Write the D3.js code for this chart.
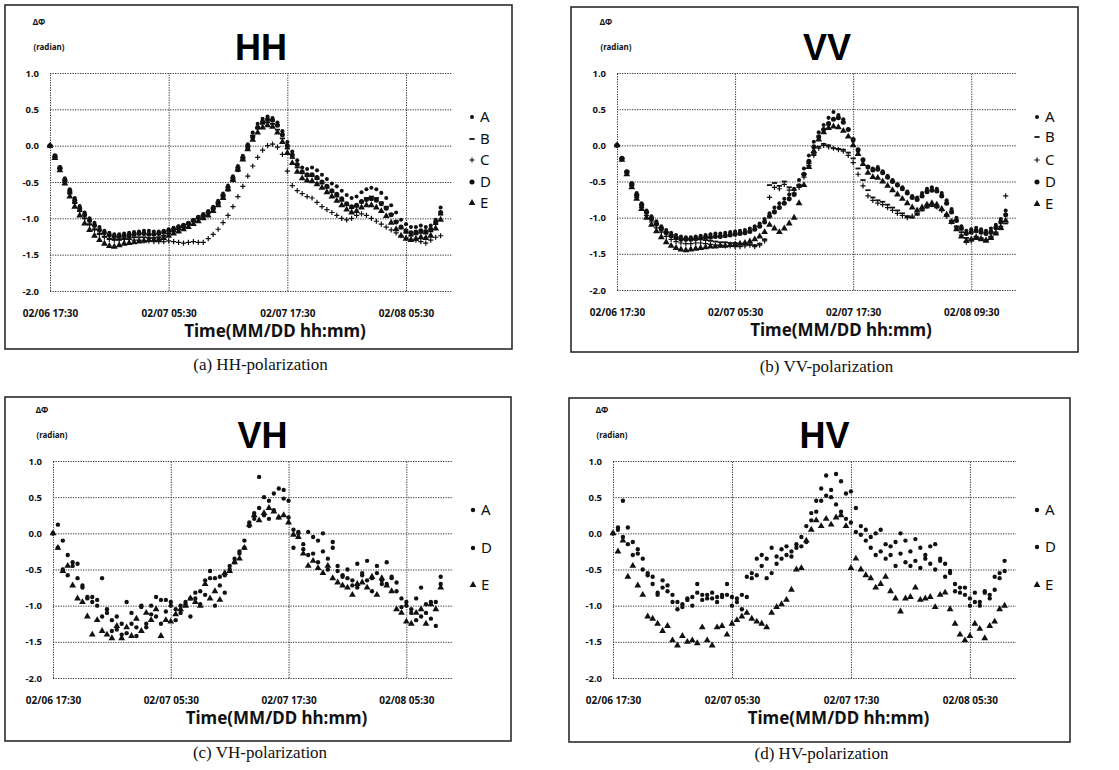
<!DOCTYPE html>
<html><head><meta charset="utf-8">
<script src="https://cdn.jsdelivr.net/npm/d3@7"></script>
<style>body{margin:0;background:#fff}svg{display:block}</style>
</head><body>
<svg id="c" width="1119" height="770"></svg>
<script>
// ---------- data ----------
const stepHours = 0.5;           // sampling interval from 02/06 17:30
const spanHours = 40.65;         // x extent of the plot area (hours)
const xTickHours = [0, 12, 24, 36];
const xTickLabels = ["02/06 17:30", "02/07 05:30", "02/07 17:30", "02/08 05:30"];
const xTickLabelsVV = ["02/06 17:30", "02/07 05:30", "02/07 17:30", "02/08 09:30"];
const yTicks = [1.0, 0.5, 0.0, -0.5, -1.0, -1.5, -2.0];

const hhA = [0.00,-0.15,-0.30,-0.45,-0.60,-0.72,-0.83,-0.92,-1.00,-1.06,-1.12,-1.17,-1.20,-1.22,-1.22,-1.21,-1.20,-1.19,-1.18,-1.17,
 -1.17,-1.18,-1.18,-1.17,-1.15,-1.13,-1.11,-1.09,-1.06,-1.02,-0.98,-0.94,-0.90,-0.84,-0.76,-0.66,-0.55,-0.42,-0.28,-0.14,
 0.02,0.18,0.30,0.37,0.40,0.38,0.32,0.20,0.05,-0.08,-0.20,-0.30,-0.32,-0.30,-0.34,-0.40,-0.46,-0.52,-0.56,-0.62,
 -0.68,-0.72,-0.70,-0.64,-0.60,-0.58,-0.60,-0.65,-0.72,-0.82,-0.92,-1.02,-1.08,-1.12,-1.12,-1.10,-1.12,-1.10,-1.02,-0.85];
const hhB = [0.00,-0.16,-0.32,-0.50,-0.66,-0.79,-0.90,-1.00,-1.08,-1.15,-1.21,-1.25,-1.28,-1.29,-1.29,-1.28,-1.27,-1.26,-1.26,-1.26,
 -1.27,-1.27,-1.26,-1.24,-1.21,-1.18,-1.15,-1.12,-1.08,-1.04,-1.00,-0.96,-0.92,-0.86,-0.78,-0.68,-0.57,-0.44,-0.30,-0.16,
 0.00,0.14,0.24,0.30,0.32,0.30,0.22,0.10,-0.04,-0.17,-0.30,-0.38,-0.42,-0.42,-0.46,-0.52,-0.58,-0.64,-0.70,-0.76,
 -0.82,-0.86,-0.84,-0.78,-0.72,-0.70,-0.72,-0.78,-0.84,-0.94,-1.04,-1.14,-1.20,-1.24,-1.22,-1.20,-1.21,-1.18,-1.08,-0.95];
const hhC = [0.00,-0.15,-0.31,-0.48,-0.64,-0.78,-0.90,-1.00,-1.09,-1.16,-1.22,-1.26,-1.29,-1.30,-1.30,-1.29,-1.29,-1.30,-1.30,-1.31,
 -1.31,-1.32,-1.32,-1.32,-1.31,-1.32,-1.33,-1.34,-1.33,-1.32,-1.33,-1.33,-1.28,-1.22,-1.15,-1.06,-0.96,-0.84,-0.70,-0.56,
 -0.42,-0.28,-0.16,-0.06,0.00,0.02,-0.02,-0.12,-0.35,-0.55,-0.62,-0.66,-0.70,-0.72,-0.78,-0.84,-0.88,-0.92,-0.96,-1.00,
 -1.02,-1.00,-0.96,-0.94,-0.96,-1.00,-1.04,-1.08,-1.12,-1.16,-1.20,-1.24,-1.27,-1.29,-1.30,-1.32,-1.34,-1.30,-1.26,-1.24];
const hhD = [0.00,-0.14,-0.30,-0.47,-0.62,-0.75,-0.86,-0.95,-1.03,-1.10,-1.16,-1.20,-1.23,-1.25,-1.25,-1.24,-1.23,-1.22,-1.21,-1.21,
 -1.22,-1.22,-1.21,-1.19,-1.17,-1.15,-1.12,-1.10,-1.07,-1.03,-0.99,-0.96,-0.92,-0.87,-0.80,-0.70,-0.60,-0.47,-0.33,-0.18,
 -0.03,0.12,0.25,0.33,0.36,0.35,0.28,0.15,0.00,-0.13,-0.26,-0.36,-0.40,-0.40,-0.44,-0.50,-0.56,-0.62,-0.67,-0.73,
 -0.80,-0.84,-0.82,-0.77,-0.74,-0.73,-0.75,-0.80,-0.86,-0.95,-1.05,-1.12,-1.17,-1.20,-1.19,-1.17,-1.18,-1.15,-1.05,-0.92];
const hhE = [0.00,-0.17,-0.34,-0.52,-0.70,-0.84,-0.96,-1.07,-1.16,-1.24,-1.30,-1.35,-1.38,-1.39,-1.37,-1.35,-1.34,-1.33,-1.32,-1.31,
 -1.30,-1.30,-1.29,-1.27,-1.24,-1.21,-1.18,-1.15,-1.12,-1.08,-1.04,-1.00,-0.96,-0.90,-0.82,-0.72,-0.60,-0.47,-0.33,-0.19,
 -0.05,0.08,0.18,0.25,0.28,0.26,0.18,0.05,-0.10,-0.24,-0.36,-0.45,-0.48,-0.49,-0.53,-0.58,-0.64,-0.70,-0.76,-0.82,
 -0.88,-0.92,-0.90,-0.85,-0.82,-0.82,-0.85,-0.90,-0.97,-1.06,-1.15,-1.24,-1.28,-1.30,-1.28,-1.26,-1.27,-1.24,-1.14,-1.02];

const vvA = [0.00,-0.18,-0.36,-0.52,-0.66,-0.80,-0.90,-0.98,-1.05,-1.12,-1.17,-1.21,-1.24,-1.26,-1.27,-1.27,-1.26,-1.25,-1.24,-1.23,
 -1.22,-1.22,-1.21,-1.20,-1.19,-1.18,-1.17,-1.15,-1.12,-1.08,-1.02,-0.94,-0.86,-0.80,-0.74,-0.68,-0.60,-0.48,-0.32,-0.14,
 0.05,0.18,0.28,0.38,0.46,0.42,0.36,0.22,0.06,-0.08,-0.20,-0.30,-0.32,-0.30,-0.36,-0.42,-0.48,-0.54,-0.58,-0.64,
 -0.70,-0.72,-0.66,-0.60,-0.58,-0.60,-0.66,-0.76,-0.88,-1.00,-1.12,-1.18,-1.16,-1.14,-1.16,-1.18,-1.15,-1.10,-1.02,-0.90];
const vvB = [0.00,-0.18,-0.36,-0.53,-0.68,-0.82,-0.92,-1.00,-1.08,-1.14,-1.20,-1.24,-1.27,-1.29,-1.30,-1.30,-1.30,-1.30,-1.31,-1.32,
 -1.33,-1.34,-1.34,-1.35,-1.35,-1.36,-1.36,-1.37,-1.38,-1.36,-1.30,-0.55,-0.52,-0.56,-0.50,-0.58,-0.62,-0.55,-0.40,-0.25,
 -0.12,-0.02,0.02,0.00,-0.04,-0.05,-0.06,-0.10,-0.18,-0.32,-0.48,-0.62,-0.72,-0.76,-0.78,-0.82,-0.86,-0.90,-0.94,-0.98,
 -1.00,-0.96,-0.90,-0.86,-0.84,-0.86,-0.90,-0.96,-1.04,-1.12,-1.20,-1.28,-1.30,-1.28,-1.30,-1.32,-1.28,-1.22,-1.16,-1.08];
const vvC = [0.00,-0.19,-0.38,-0.56,-0.72,-0.86,-0.97,-1.06,-1.14,-1.20,-1.26,-1.30,-1.33,-1.35,-1.36,-1.36,-1.35,-1.35,-1.36,-1.37,
 -1.38,-1.38,-1.39,-1.39,-1.40,-1.40,-1.39,-1.38,-1.40,-1.38,-1.32,-0.72,-0.58,-0.60,-0.54,-0.62,-0.66,-0.58,-0.44,-0.28,
 -0.14,-0.04,0.00,-0.02,-0.04,-0.06,-0.08,-0.14,-0.24,-0.40,-0.56,-0.70,-0.76,-0.80,-0.82,-0.86,-0.90,-0.94,-0.97,-1.00,
 -0.98,-0.94,-0.88,-0.84,-0.82,-0.85,-0.90,-0.98,-1.06,-1.14,-1.24,-1.34,-1.32,-1.26,-1.28,-1.30,-1.26,-1.20,-1.12,-0.70];
const vvD = [0.00,-0.18,-0.37,-0.54,-0.69,-0.83,-0.93,-1.02,-1.09,-1.16,-1.21,-1.25,-1.28,-1.30,-1.30,-1.30,-1.29,-1.28,-1.27,-1.27,
 -1.26,-1.26,-1.25,-1.24,-1.23,-1.22,-1.21,-1.19,-1.16,-1.12,-1.06,-0.98,-0.92,-0.86,-0.80,-0.74,-0.68,-0.56,-0.40,-0.22,
 -0.02,0.12,0.22,0.30,0.36,0.38,0.32,0.22,0.08,-0.06,-0.20,-0.30,-0.34,-0.33,-0.38,-0.44,-0.50,-0.55,-0.60,-0.66,
 -0.72,-0.75,-0.70,-0.64,-0.62,-0.63,-0.70,-0.80,-0.92,-1.04,-1.15,-1.22,-1.20,-1.18,-1.20,-1.22,-1.20,-1.14,-1.06,-0.96];
const vvE = [0.00,-0.20,-0.40,-0.58,-0.74,-0.88,-1.00,-1.10,-1.19,-1.27,-1.34,-1.39,-1.42,-1.44,-1.45,-1.44,-1.43,-1.42,-1.41,-1.40,
 -1.40,-1.39,-1.39,-1.38,-1.37,-1.36,-1.35,-1.33,-1.30,-1.26,-1.20,-1.10,-1.15,-1.20,-1.15,-1.08,-1.00,-0.80,-0.55,-0.30,
 -0.08,0.08,0.18,0.24,0.26,0.25,0.20,0.12,0.00,-0.12,-0.26,-0.38,-0.44,-0.45,-0.50,-0.56,-0.62,-0.68,-0.74,-0.80,
 -0.86,-0.90,-0.86,-0.82,-0.80,-0.82,-0.88,-0.96,-1.06,-1.16,-1.26,-1.32,-1.30,-1.28,-1.30,-1.32,-1.28,-1.22,-1.14,-1.04];

const vhA = [0.00,0.12,-0.10,-0.30,-0.45,-0.42,-0.72,-0.88,-0.95,-0.92,-1.15,-1.05,-1.20,-1.33,-1.25,-1.38,-1.10,-1.30,-1.02,-1.25,
 -1.00,-1.15,-0.92,-1.08,-0.95,-1.20,-1.00,-0.95,-0.90,-0.82,-0.80,-0.65,-0.52,-0.62,-0.72,-0.58,-0.50,-0.35,-0.28,-0.10,
 0.10,0.28,0.78,0.50,0.45,0.55,0.62,0.48,0.22,0.05,0.02,-0.15,0.02,-0.28,-0.10,0.00,-0.35,-0.12,-0.45,-0.58,
 -0.50,-0.65,-0.42,-0.55,-0.38,-0.62,-0.45,-0.70,-0.40,-0.62,-0.80,-1.02,-0.95,-1.10,-0.90,-1.15,-0.98,-0.95,-1.28,-0.60];
const vhD = [0.00,-0.20,-0.50,-0.58,-0.40,-0.62,-0.75,-0.90,-0.88,-1.00,-0.62,-1.10,-1.35,-1.15,-1.40,-0.95,-1.25,-1.42,-1.00,-1.30,
 -1.12,-0.88,-1.25,-0.92,-1.00,-1.05,-1.10,-0.98,-1.15,-0.90,-0.98,-0.85,-0.62,-1.00,-0.60,-0.82,-0.45,-0.40,-0.25,-0.20,
 0.15,0.20,0.35,0.25,0.20,0.32,0.22,0.60,0.45,-0.20,0.00,-0.22,-0.30,-0.05,-0.40,-0.25,-0.50,-0.20,-0.52,-0.60,
 -0.62,-0.72,-0.75,-0.58,-0.65,-0.80,-0.55,-0.65,-0.70,-0.60,-0.68,-0.90,-1.00,-1.05,-1.20,-0.75,-1.10,-1.18,-0.95,-0.70];
const vhE = [0.00,-0.20,-0.52,-0.45,-0.72,-0.90,-0.95,-1.15,-1.40,-1.20,-1.35,-1.40,-1.45,-1.28,-1.45,-1.30,-1.42,-1.18,-1.35,-1.10,
 -1.20,-1.05,-1.42,-1.20,-1.22,-1.12,-1.05,-1.00,-0.90,-0.95,-1.00,-0.70,-0.90,-0.80,-0.92,-0.55,-0.52,-0.40,-0.35,-0.20,
 0.12,0.25,0.18,0.28,0.35,0.30,0.22,0.25,0.15,-0.02,-0.05,-0.28,-0.45,-0.38,-0.48,-0.55,-0.45,-0.62,-0.68,-0.72,
 -0.75,-0.85,-0.70,-0.68,-0.75,-0.60,-0.85,-0.62,-0.72,-0.80,-1.05,-1.10,-1.22,-1.25,-1.10,-1.05,-1.25,-0.98,-1.05,-0.75];

const hvA = [0.00,0.05,0.45,0.08,-0.12,-0.22,-0.35,-0.55,-0.60,-0.82,-0.65,-0.72,-0.85,-0.95,-1.02,-0.90,-0.88,-0.70,-0.85,-0.90,
 -0.82,-0.88,-0.85,-0.70,-0.88,-0.95,-0.85,-0.60,-0.55,-0.35,-0.30,-0.35,-0.20,-0.32,-0.22,-0.18,-0.25,-0.15,-0.05,0.10,
 0.28,0.45,0.62,0.80,0.60,0.82,0.72,0.55,0.58,0.35,0.10,0.05,-0.05,0.00,0.05,-0.15,-0.18,-0.12,0.00,-0.10,
 -0.25,-0.08,-0.20,-0.35,-0.18,-0.15,-0.38,-0.42,-0.55,-0.70,-0.75,-0.85,-0.90,-0.82,-0.95,-0.80,-0.85,-0.60,-0.55,-0.38];
const hvD = [0.00,0.08,-0.05,-0.15,-0.30,-0.28,-0.50,-0.58,-0.70,-0.85,-0.75,-0.80,-0.95,-1.05,-0.98,-0.92,-1.00,-0.82,-0.92,-0.85,
 -0.90,-0.95,-0.88,-0.85,-1.00,-0.90,-1.05,-0.88,-0.62,-0.58,-0.45,-0.62,-0.55,-0.42,-0.35,-0.30,-0.32,-0.20,-0.18,-0.12,
 0.18,0.30,0.45,0.52,0.50,0.40,0.30,0.20,0.15,0.02,-0.02,-0.10,-0.20,-0.30,-0.25,-0.35,-0.30,-0.45,-0.28,-0.40,
 -0.45,-0.38,-0.48,-0.30,-0.42,-0.50,-0.35,-0.60,-0.52,-0.80,-0.82,-0.75,-1.00,-0.95,-1.00,-0.82,-0.90,-0.78,-0.62,-0.52];
const hvE = [0.00,-0.25,-0.10,-0.60,-0.45,-0.72,-0.85,-1.15,-1.18,-1.25,-1.35,-1.28,-1.48,-1.55,-1.42,-1.50,-1.48,-1.52,-1.30,-1.48,
 -1.55,-1.30,-1.28,-1.40,-1.25,-1.20,-1.15,-1.10,-1.18,-1.22,-1.25,-1.30,-1.10,-1.02,-0.98,-0.92,-0.78,-0.50,-0.48,-0.10,
 0.05,0.18,0.10,0.20,0.12,0.22,0.25,0.10,-0.48,-0.35,-0.50,-0.58,-0.62,-0.75,-0.70,-0.60,-0.80,-0.90,-1.08,-0.90,
 -0.88,-0.75,-0.92,-0.90,-0.88,-1.02,-0.85,-0.82,-1.05,-1.25,-1.40,-1.48,-1.42,-1.25,-1.32,-1.45,-1.28,-1.22,-1.05,-1.00];

// ---------- layout ----------
const panels = [
  {title:"HH", caption:"(a) HH-polarization", frame:[5,5,507,344], plot:{l:50,r:452,t:73,b:291},
   capY:370, legendX:472, legendY:[117,139,160,182,203], ticks:xTickLabels,
   series:[["A",hhA,"dotS"],["B",hhB,"dash"],["C",hhC,"plus"],["D",hhD,"dotL"],["E",hhE,"tri"]]},
  {title:"VV", caption:"(b) VV-polarization", frame:[571,7,507,345], plot:{l:617,r:1017,t:73,b:290},
   capY:372, legendX:1037, legendY:[117,137,160,182,204], ticks:xTickLabelsVV,
   series:[["A",vvA,"dotS"],["B",vvB,"dash"],["C",vvC,"plus"],["D",vvD,"dotL"],["E",vvE,"tri"]]},
  {title:"VH", caption:"(c) VH-polarization", frame:[5,397,506,344], plot:{l:53,r:452,t:461,b:678},
   capY:758, legendX:473, legendY:[510,548,585], ticks:xTickLabels,
   series:[["A",vhA,"dotM"],["D",vhD,"dotM"],["E",vhE,"triM"]]},
  {title:"HV", caption:"(d) HV-polarization", frame:[569,398,501,344], plot:{l:613,r:1016,t:461,b:678},
   capY:759, legendX:1037, legendY:[510,547,585], ticks:xTickLabels,
   series:[["A",hvA,"dotM"],["D",hvD,"dotM"],["E",hvE,"triM"]]}
];

const ink = "#111";
const shapes = {
  dotS: {d: d3.symbol(d3.symbolCircle, 13)(), fill:true},
  dotL: {d: d3.symbol(d3.symbolCircle, 20)(), fill:true},
  dotM: {d: d3.symbol(d3.symbolCircle, 15)(), fill:true},
  tri:  {d: d3.symbol(d3.symbolTriangle, 20)(), fill:true},
  triM: {d: d3.symbol(d3.symbolTriangle, 20)(), fill:true},
  dash: {d: "M-2.6,-0.9h5.2v1.8h-5.2z", fill:true},
  plus: {d: "M-2.6,0h5.2M0,-2.6v5.2", fill:false}
};

const svg = d3.select("#c");
const sans = "'Noto Sans', 'DejaVu Sans', sans-serif";

panels.forEach(p => {
  const g = svg.append("g");
  const P = p.plot;
  g.append("rect").attr("x", p.frame[0]).attr("y", p.frame[1])
    .attr("width", p.frame[2]).attr("height", p.frame[3])
    .attr("fill", "none").attr("stroke", "#2b2b2b").attr("stroke-width", 1.6);

  const x = d3.scaleLinear().domain([0, spanHours]).range([P.l, P.r]);
  const y = d3.scaleLinear().domain([-2, 1]).range([P.b, P.t]);

  // horizontal grid + y labels
  const ya = g.append("g").attr("transform", `translate(${P.l},0)`)
    .call(d3.axisLeft(y).tickValues(yTicks).tickSize(-(P.r - P.l)).tickPadding(11)
      .tickFormat(d => d.toFixed(1)));
  ya.select(".domain").remove();
  ya.selectAll("line").attr("stroke", "#3a3a3a").attr("stroke-dasharray", "1.3,1.2").attr("stroke-width", 1);
  ya.selectAll("text").attr("font-family", sans).attr("font-weight", "bold")
    .attr("font-size", 9.5).attr("fill", ink);

  // vertical grid + x labels
  const xa = g.append("g").attr("transform", `translate(0,${P.b})`)
    .call(d3.axisBottom(x).tickValues(xTickHours).tickSize(-(P.b - P.t))
      .tickFormat((d, i) => p.ticks[i]));
  xa.select(".domain").remove();
  xa.selectAll("line").attr("stroke", "#3a3a3a").attr("stroke-dasharray", "1.3,1.2").attr("stroke-width", 1);
  xa.selectAll("text").attr("y", 26).attr("dy", null).attr("font-family", sans).attr("font-weight", "bold")
    .attr("font-size", 10).attr("fill", ink);

  // axis titles
  g.append("text").attr("x", (P.l + P.r) / 2 + 24).attr("y", P.b + 46)
    .attr("text-anchor", "middle").attr("font-family", sans).attr("font-weight", "bold")
    .attr("font-size", 17).attr("fill", ink).text("Time(MM/DD hh:mm)");
  g.append("text").attr("x", P.l - 11).attr("y", P.t - 48)
    .attr("text-anchor", "middle").attr("font-family", sans).attr("font-weight", "bold")
    .attr("font-size", 8).attr("fill", ink).text("ΔΦ");
  g.append("text").attr("x", P.l - 1).attr("y", P.t - 23)
    .attr("text-anchor", "middle").attr("font-family", sans).attr("font-weight", "bold")
    .attr("font-size", 8).attr("fill", ink).text("(radian)");

  // chart title
  g.append("text").attr("x", (P.l + P.r) / 2 + 10).attr("y", P.t - 13)
    .attr("text-anchor", "middle").attr("font-family", "'Liberation Sans', Arial, sans-serif")
    .attr("font-weight", "bold").attr("font-size", 36).attr("fill", "#000").text(p.title);

  // data points
  p.series.forEach(([name, vals, shp]) => {
    const s = shapes[shp];
    g.append("g").selectAll("path").data(vals).join("path")
      .attr("d", s.d)
      .attr("transform", (v, i) => `translate(${x(i * stepHours)},${y(v)})`)
      .attr("fill", s.fill ? ink : "none")
      .attr("stroke", s.fill ? "none" : ink).attr("stroke-width", 1.2);
  });

  // legend
  p.series.forEach(([name, vals, shp], i) => {
    const s = shapes[shp];
    g.append("path").attr("d", s.d)
      .attr("transform", `translate(${p.legendX},${p.legendY[i]})`)
      .attr("fill", s.fill ? ink : "none")
      .attr("stroke", s.fill ? "none" : ink).attr("stroke-width", 1.2);
    g.append("text").attr("x", p.legendX + 8).attr("y", p.legendY[i]).attr("dy", "0.36em")
      .attr("font-family", sans).attr("font-size", 15).attr("fill", ink).text(name);
  });

  // caption
  svg.append("text").attr("x", (p.frame[0] + p.frame[0] + p.frame[2]) / 2 + 2).attr("y", p.capY)
    .attr("text-anchor", "middle").attr("font-family", "'Liberation Serif', 'Times New Roman', serif")
    .attr("font-size", 17).attr("fill", "#111").text(p.caption);
});
</script>
</body></html>
